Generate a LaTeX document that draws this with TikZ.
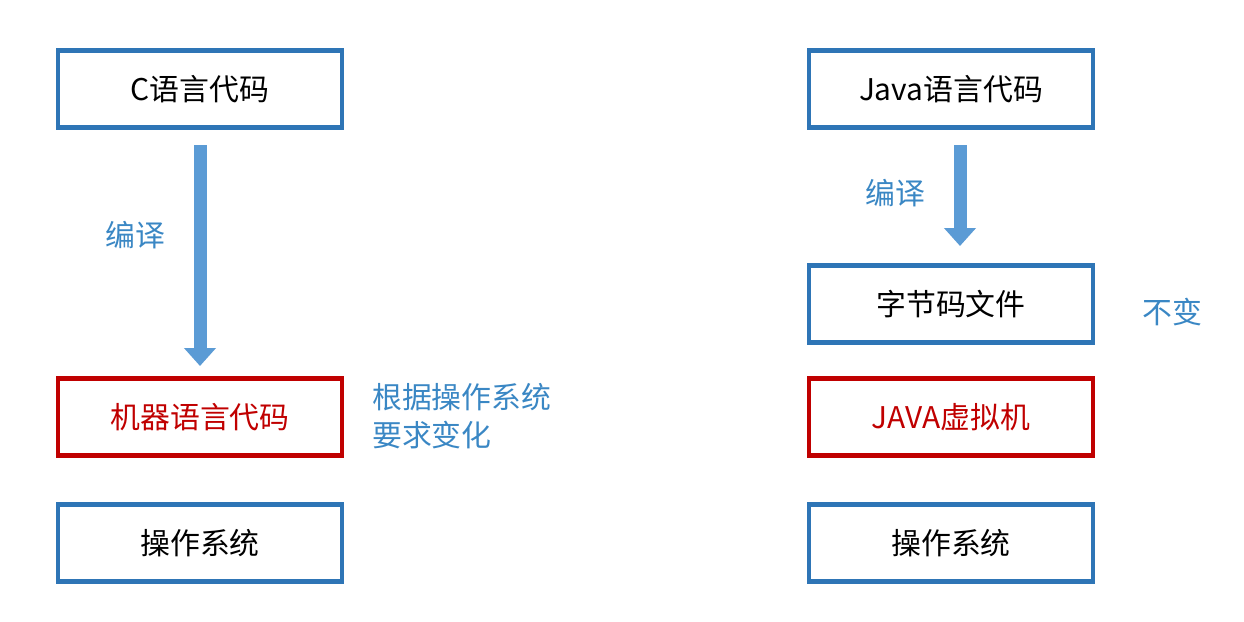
\documentclass[tikz,border=0pt]{standalone}
\usepackage{fontspec}
\setmainfont{Noto Sans CJK SC}
\usetikzlibrary{arrows.meta}
\definecolor{boxblue}{HTML}{2E75B6}
\definecolor{boxred}{HTML}{C00000}
\definecolor{arrowblue}{HTML}{5B9BD5}
\definecolor{noteblue}{HTML}{3A87C4}
\tikzset{
  box/.style={draw=boxblue, line width=2.4pt, minimum width=5.68cm, minimum height=1.54cm, font=\fontsize{17}{20}\selectfont},
  redbox/.style={box, draw=boxred, text=boxred},
  bigarrow/.style={draw=arrowblue, line width=0.26cm, -{Triangle[length=0.36cm,width=0.62cm]}},
  note/.style={text=noteblue, font=\fontsize{17}{22}\selectfont, align=left}
}
\begin{document}
\begin{tikzpicture}[x=0.02cm,y=-0.02cm]
\useasboundingbox (0,0) rectangle (1244,622);
% left side
\node[box] (csrc) at (200,89) {C语言代码};
\node[redbox] (mcode) at (200,417) {机器语言代码};
\node[box] (osl) at (200,543) {操作系统};
\coordinate (la) at (200,145);
\coordinate (lb) at (200,366);
\draw[bigarrow] (la) -- (lb);
\node[note] (lcomp) at (135,235) {编译};
\node[note, anchor=west] (lnote) at (366,416) {根据操作系统\\要求变化};
% right side
\node[box] (jsrc) at (951,89) {Java语言代码};
\node[box] (bcode) at (951,304) {字节码文件};
\node[redbox] (jvm) at (951,417) {JAVA虚拟机};
\node[box] (osr) at (951,543) {操作系统};
\coordinate (ra) at (960,145);
\coordinate (rb) at (960,246);
\draw[bigarrow] (ra) -- (rb);
\node[note] (rcomp) at (895,193) {编译};
\node[note] (rnote) at (1172,312) {不变};
\end{tikzpicture}
\end{document}
